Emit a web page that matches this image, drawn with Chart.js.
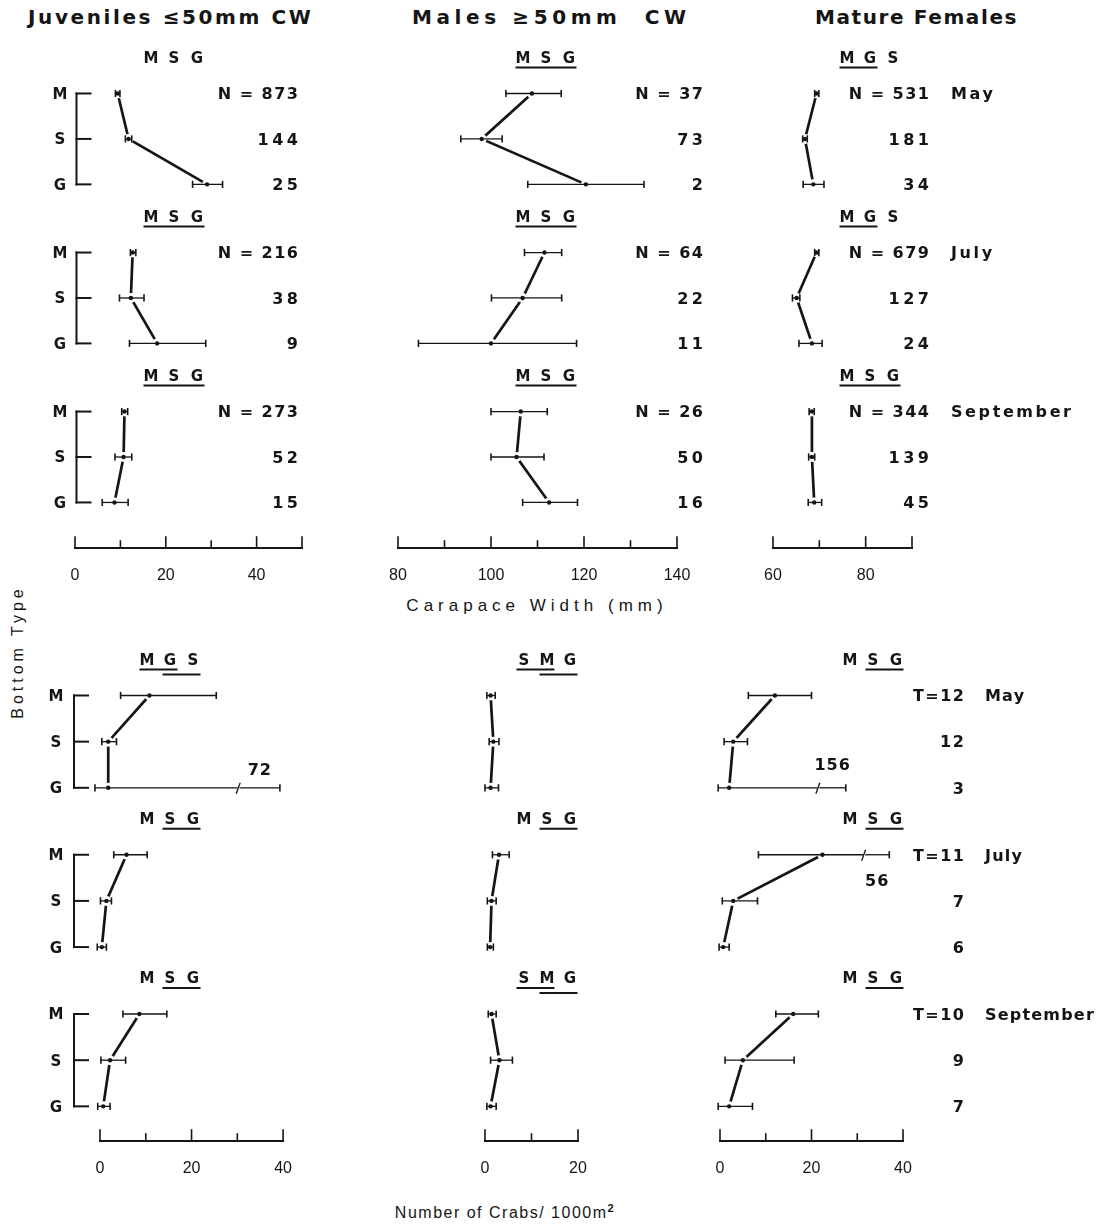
<!DOCTYPE html>
<html>
<head>
<meta charset="utf-8">
<script src="https://cdn.jsdelivr.net/npm/chart.js@4.4.1/dist/chart.umd.min.js"></script>
<style>
  html, body { margin: 0; padding: 0; background: #fff; }
  body { width: 1103px; height: 1225px; position: relative; overflow: hidden;
         font-family: "Liberation Sans", Arial, Helvetica, sans-serif; color: #151515; }
  .lbl { position: absolute; white-space: nowrap; line-height: 1; }
  .head { font-family: "DejaVu Sans", sans-serif; font-weight: bold; font-size: 20px; top: 7px; }
  .axis-title { font-size: 17px; transform: translate(-50%, -50%); }
  canvas { position: absolute; }
</style>
</head>
<body>
<div class="lbl head" style="left:28px; letter-spacing:2.6px;">Juveniles ≤50mm CW</div>
<div class="lbl head" style="left:412px; letter-spacing:4.6px;">Males ≥50mm&nbsp; CW</div>
<div class="lbl head" style="left:815px; letter-spacing:1.6px;">Mature Females</div>
<div class="lbl axis-title" style="left:537px; top:605px; letter-spacing:5px;">Carapace Width (mm)</div>
<div class="lbl axis-title" style="left:505px; top:1212px; font-size:16px; letter-spacing:1.5px;">Number of Crabs/ 1000m<sup style="font-size:11px; font-weight:bold;">2</sup></div>
<div class="lbl" style="left:18px; top:652px; font-size:16px; letter-spacing:4px; transform:translate(-50%,-50%) rotate(-90deg);">Bottom Type</div>

<script>
// ---------------- data ----------------
const bottomTypes = ['M', 'S', 'G'];
const months = ['May', 'July', 'September'];

// Carapace width (mm): mean, lower and upper limit; rows per month are [M, S, G]
const juvWidthMean = [[9.4, 11.8, 29.1], [12.7, 12.3, 18.1], [10.9, 10.7, 8.7]];
const juvWidthLow  = [[8.9, 11.1, 25.9], [12.2, 9.8, 12.0], [10.3, 8.8, 6.0]];
const juvWidthHigh = [[9.9, 12.5, 32.5], [13.4, 15.2, 28.8], [11.6, 12.5, 11.7]];
const juvCount     = [[873, 144, 25], [216, 38, 9], [273, 52, 15]];

const maleWidthMean = [[108.8, 98.0, 120.4], [111.5, 106.8, 100.0], [106.4, 105.5, 112.5]];
const maleWidthLow  = [[103.2, 93.5, 107.9], [107.2, 100.1, 84.4], [100.0, 100.0, 106.8]];
const maleWidthHigh = [[115.1, 102.4, 132.9], [115.2, 115.2, 118.4], [112.1, 111.4, 118.6]];
const maleCount     = [[37, 73, 2], [64, 22, 11], [26, 50, 16]];

const femWidthMean = [[69.4, 66.9, 68.7], [69.4, 65.1, 68.4], [68.4, 68.4, 68.9]];
const femWidthLow  = [[69.0, 66.4, 66.5], [69.0, 64.2, 65.6], [67.8, 67.7, 67.6]];
const femWidthHigh = [[69.9, 67.4, 71.0], [69.9, 65.8, 70.6], [68.9, 69.0, 70.5]];
const femCount     = [[531, 181, 34], [679, 127, 24], [344, 139, 45]];

// Density (number of crabs / 1000 m2): mean, lower and upper limit
const juvDensMean = [[10.8, 1.8, 1.8], [5.8, 1.4, 0.4], [8.6, 2.2, 0.7]];
const juvDensLow  = [[4.5, 0.4, -1.1], [3.0, 0.1, -0.6], [5.0, 0.2, -0.5]];
const juvDensHigh = [[25.4, 3.6, 72], [10.3, 2.5, 1.4], [14.6, 5.6, 2.2]];

const maleDensMean = [[1.2, 1.8, 1.2], [3.0, 1.4, 1.1], [1.4, 3.1, 1.2]];
const maleDensLow  = [[0.4, 0.9, 0.0], [1.6, 0.5, 0.5], [0.7, 1.2, 0.4]];
const maleDensHigh = [[2.2, 3.0, 2.9], [5.2, 2.4, 1.8], [2.4, 5.9, 2.4]];

const femDensMean = [[12.0, 2.9, 2.0], [22.4, 2.9, 0.7], [16.0, 5.0, 2.0]];
const femDensLow  = [[6.2, 0.9, -0.4], [8.4, 0.5, -0.2], [12.2, 1.1, -0.4]];
const femDensHigh = [[20.0, 6.0, 156], [56, 8.2, 2.0], [21.5, 16.2, 7.1]];
const trawlCount  = [[12, 12, 3], [11, 7, 6], [10, 9, 7]];

// Bottom types ranked per month; underlined groups do not differ
const juvWidthOrder  = ['MSG', 'MSG', 'MSG'];
const juvWidthGroups = [[], [[0, 2]], [[0, 2]]];
const maleWidthOrder  = ['MSG', 'MSG', 'MSG'];
const maleWidthGroups = [[[0, 2]], [[0, 2]], [[0, 2]]];
const femWidthOrder  = ['MGS', 'MGS', 'MSG'];
const femWidthGroups = [[[0, 1]], [[0, 1]], [[0, 2]]];
const juvDensOrder  = ['MGS', 'MSG', 'MSG'];
const juvDensGroups = [[[0, 1], [1, 2]], [[1, 2]], [[1, 2]]];
const maleDensOrder  = ['SMG', 'MSG', 'SMG'];
const maleDensGroups = [[[0, 1], [1, 2]], [[1, 2]], [[0, 1], [1, 2]]];
const femDensOrder  = ['MSG', 'MSG', 'MSG'];
const femDensGroups = [[[1, 2]], [[1, 2]], [[1, 2]]];

// Axis ranges and labelled ticks
const widthRanges = [[0, 50], [80, 140], [60, 90]];
const widthTicks  = [[0, 20, 40], [80, 100, 120, 140], [60, 80]];
const densRanges  = [[0, 40], [0, 20], [0, 40]];
const densTicks   = [[0, 20, 40], [0, 20], [0, 20, 40]];

// ---------------- layout ----------------
const INK = '#151515';
const FONT = '"Liberation Sans", Arial, Helvetica, sans-serif';
const LABEL_FONT = '"DejaVu Sans", "Liberation Sans", sans-serif';
const X_AXIS_H = 45;
const HEAD_ROOM = 52;

const SECTIONS = [
  { rowTop: 89,  rowBottom: 502,  axisY: 548,  gap: 3.5,  countSpacing: 3.5, monthSpacing: 2.6 },
  { rowTop: 691, rowBottom: 1106, axisY: 1141, gap: 3.45, countSpacing: 1.8, monthSpacing: 1.2 }
];

const PANELS = [
  { key: 'juvW', section: 0, range: widthRanges[0], ticks: widthTicks[0],
    mean: juvWidthMean, low: juvWidthLow, high: juvWidthHigh,
    order: juvWidthOrder, groups: juvWidthGroups,
    counts: juvCount, prefix: 'N = ', countDx: -4,
    px0: 75, px1: 305, canvasLeft: 30, canvasRight: 320,
    bracket: { dx: 1.5, labelDx: -15 }, headerDx: 99 },
  { key: 'maleW', section: 0, range: widthRanges[1], ticks: widthTicks[1],
    mean: maleWidthMean, low: maleWidthLow, high: maleWidthHigh,
    order: maleWidthOrder, groups: maleWidthGroups,
    counts: maleCount, prefix: 'N = ', countDx: 26,
    px0: 398, px1: 677, canvasLeft: 360, canvasRight: 725, headerDx: 148 },
  { key: 'femW', section: 0, range: widthRanges[2], ticks: widthTicks[2],
    mean: femWidthMean, low: femWidthLow, high: femWidthHigh,
    order: femWidthOrder, groups: femWidthGroups,
    counts: femCount, prefix: 'N = ', countDx: 17, monthDx: 39,
    px0: 773, px1: 912, canvasLeft: 745, canvasRight: 1103, headerDx: 97 },
  { key: 'juvD', section: 1, range: densRanges[0], ticks: densTicks[0],
    mean: juvDensMean, low: juvDensLow, high: juvDensHigh,
    order: juvDensOrder, groups: juvDensGroups,
    px0: 100, px1: 285, canvasLeft: 30, canvasRight: 310,
    bracket: { dx: -26, labelDx: -44 }, headerDx: 70,
    breaks: [{ m: 0, r: 2, at: 30.3, end: 39.3, dy: -19 }] },
  { key: 'maleD', section: 1, range: densRanges[1], ticks: densTicks[1],
    mean: maleDensMean, low: maleDensLow, high: maleDensHigh,
    order: maleDensOrder, groups: maleDensGroups,
    px0: 485, px1: 578, canvasLeft: 455, canvasRight: 640, headerDx: 62 },
  { key: 'femD', section: 1, range: densRanges[2], ticks: densTicks[2],
    mean: femDensMean, low: femDensLow, high: femDensHigh,
    order: femDensOrder, groups: femDensGroups,
    counts: trawlCount, prefix: 'T=', countDx: 61, monthDx: 82,
    px0: 720, px1: 903, canvasLeft: 690, canvasRight: 1103, headerDx: 153,
    breaks: [{ m: 0, r: 2, at: 21.5, end: 27.5, dy: -24 },
             { m: 1, r: 0, at: 31.5, end: 37.0, dy: 25 }] }
];

// ---------------- drawing helpers ----------------
function spacedText(ctx, str, x, y, size, align, spacing, family) {
  ctx.save();
  ctx.font = `bold ${size}px ${family || LABEL_FONT}`;
  ctx.letterSpacing = spacing + 'px';
  ctx.textAlign = align;
  ctx.textBaseline = 'alphabetic';
  ctx.fillStyle = INK;
  const shift = align === 'right' ? spacing : (align === 'center' ? spacing / 2 : 0);
  ctx.fillText(str, x + shift, y + size * 0.364);
  ctx.restore();
}

function seg(ctx, x1, y1, x2, y2, w) {
  ctx.lineWidth = w;
  ctx.beginPath();
  ctx.moveTo(x1, y1);
  ctx.lineTo(x2, y2);
  ctx.stroke();
}

function cap(ctx, x, y) {
  seg(ctx, x, y - 3.6, x, y + 3.6, 1.6);
}

function decorPlugin(panel) {
  const sec = SECTIONS[panel.section];
  return {
    id: 'decor_' + panel.key,
    afterDraw(chart) {
      const ctx = chart.ctx;
      const xs = chart.scales.x, ys = chart.scales.y, area = chart.chartArea;
      const rowY = (m, r) => ys.getPixelForValue(m * sec.gap + r);
      ctx.save();
      ctx.strokeStyle = INK;
      ctx.fillStyle = INK;
      ctx.lineCap = 'butt';

      for (let m = 0; m < 3; m++) {
        // error bars and means
        for (let r = 0; r < 3; r++) {
          const y = rowY(m, r);
          const lo = xs.getPixelForValue(panel.low[m][r]);
          const hiVal = panel.high[m][r];
          const brk = (panel.breaks || []).find(b => b.m === m && b.r === r);
          if (brk && hiVal > xs.max) {
            const bx = xs.getPixelForValue(brk.at);
            const ex = xs.getPixelForValue(brk.end);
            seg(ctx, lo, y, bx - 1, y, 1.3);
            seg(ctx, bx - 2.5, y + 6, bx + 1.5, y - 5, 1.3);
            seg(ctx, bx + 1, y, ex, y, 1.3);
            cap(ctx, lo, y);
            cap(ctx, ex, y);
            spacedText(ctx, String(hiVal), (bx + ex) / 2, y + brk.dy, 16, 'center', 1);
          } else {
            const hi = xs.getPixelForValue(hiVal);
            seg(ctx, lo, y, hi, y, 1.3);
            cap(ctx, lo, y);
            cap(ctx, hi, y);
          }
          ctx.beginPath();
          ctx.arc(xs.getPixelForValue(panel.mean[m][r]), y, 2.2, 0, Math.PI * 2);
          ctx.fill();
        }

        // bottom-type bracket with its letters
        if (panel.bracket) {
          const bx = area.left + panel.bracket.dx;
          ctx.lineCap = 'square';
          seg(ctx, bx, rowY(m, 0), bx, rowY(m, 2), 2);
          for (let r = 0; r < 3; r++) {
            seg(ctx, bx, rowY(m, r), bx + 14, rowY(m, r), 2);
            spacedText(ctx, bottomTypes[r], area.left + panel.bracket.labelDx, rowY(m, r), 15, 'center', 0);
          }
          ctx.lineCap = 'butt';
        }

        // ranked bottom types with underlined groups
        const hx = area.left + panel.headerDx;
        const hy = rowY(m, 0) - 36;
        const letters = panel.order[m].split('');
        const lx = k => hx + (k - 1) * 23;
        letters.forEach((ch, k) => spacedText(ctx, ch, lx(k), hy, 15, 'center', 0));
        panel.groups[m].forEach((g, level) => {
          const uy = hy + 10 + level * 5;
          seg(ctx, lx(g[0]) - 7.5, uy, lx(g[1]) + 7.5, uy, 2);
        });

        // sample sizes / trawl counts and month names
        if (panel.counts) {
          const cx = area.right + panel.countDx;
          for (let r = 0; r < 3; r++) {
            const txt = (r === 0 ? panel.prefix : '') + panel.counts[m][r];
            spacedText(ctx, txt, cx, rowY(m, r), 16, 'right', r === 0 ? 1.5 : sec.countSpacing);
          }
          if (panel.monthDx !== undefined) {
            spacedText(ctx, months[m], area.right + panel.monthDx, rowY(m, 0), 16, 'left', sec.monthSpacing);
          }
        }
      }

      // x axis drawn as a bracket with upward ticks
      const ay = area.bottom;
      ctx.lineCap = 'square';
      seg(ctx, xs.getPixelForValue(xs.min), ay, xs.getPixelForValue(xs.max), ay, 2);
      xs.ticks.forEach(t => {
        const major = panel.ticks.includes(t.value) || t.value === xs.min || t.value === xs.max;
        const tx = xs.getPixelForValue(t.value);
        seg(ctx, tx, ay, tx, ay - (major ? 11 : 7), 1.6);
      });
      ctx.restore();
    }
  };
}

// ---------------- charts ----------------
PANELS.forEach(panel => {
  const sec = SECTIONS[panel.section];
  const last = 2 * sec.gap + 2;
  const unit = (sec.rowBottom - sec.rowTop) / last;
  const chartTop = sec.rowTop - HEAD_ROOM;
  const yMin = -HEAD_ROOM / unit;
  const yMax = last + (sec.axisY - sec.rowBottom) / unit;

  const canvas = document.createElement('canvas');
  canvas.width = panel.canvasRight - panel.canvasLeft;
  canvas.height = sec.axisY - chartTop + X_AXIS_H;
  canvas.style.left = panel.canvasLeft + 'px';
  canvas.style.top = chartTop + 'px';
  document.body.appendChild(canvas);

  const datasets = [0, 1, 2].map(m => ({
    label: months[m],
    data: [0, 1, 2].map(r => ({ x: panel.mean[m][r], y: m * sec.gap + r })),
    showLine: true,
    borderColor: INK,
    borderWidth: 2.7,
    tension: 0,
    pointRadius: 5,
    pointHoverRadius: 5,
    pointBackgroundColor: '#ffffff',
    pointBorderWidth: 0,
    clip: false
  }));

  new Chart(canvas, {
    type: 'scatter',
    data: { datasets },
    options: {
      responsive: false,
      animation: false,
      devicePixelRatio: 1,
      events: [],
      layout: { padding: { left: panel.px0 - panel.canvasLeft, right: panel.canvasRight - panel.px1, top: 0, bottom: 0 } },
      plugins: { legend: { display: false }, tooltip: { enabled: false } },
      scales: {
        x: {
          type: 'linear',
          min: panel.range[0],
          max: panel.range[1],
          grid: { display: false, drawTicks: false },
          border: { display: false },
          ticks: {
            stepSize: 10,
            autoSkip: false,
            maxRotation: 0,
            padding: 18,
            color: INK,
            font: { family: FONT, size: 16 },
            callback: v => panel.ticks.includes(v) ? String(v) : ''
          },
          afterFit: s => { s.height = X_AXIS_H; }
        },
        y: {
          type: 'linear',
          display: false,
          reverse: true,
          min: yMin,
          max: yMax
        }
      }
    },
    plugins: [decorPlugin(panel)]
  });
});
</script>
</body>
</html>
